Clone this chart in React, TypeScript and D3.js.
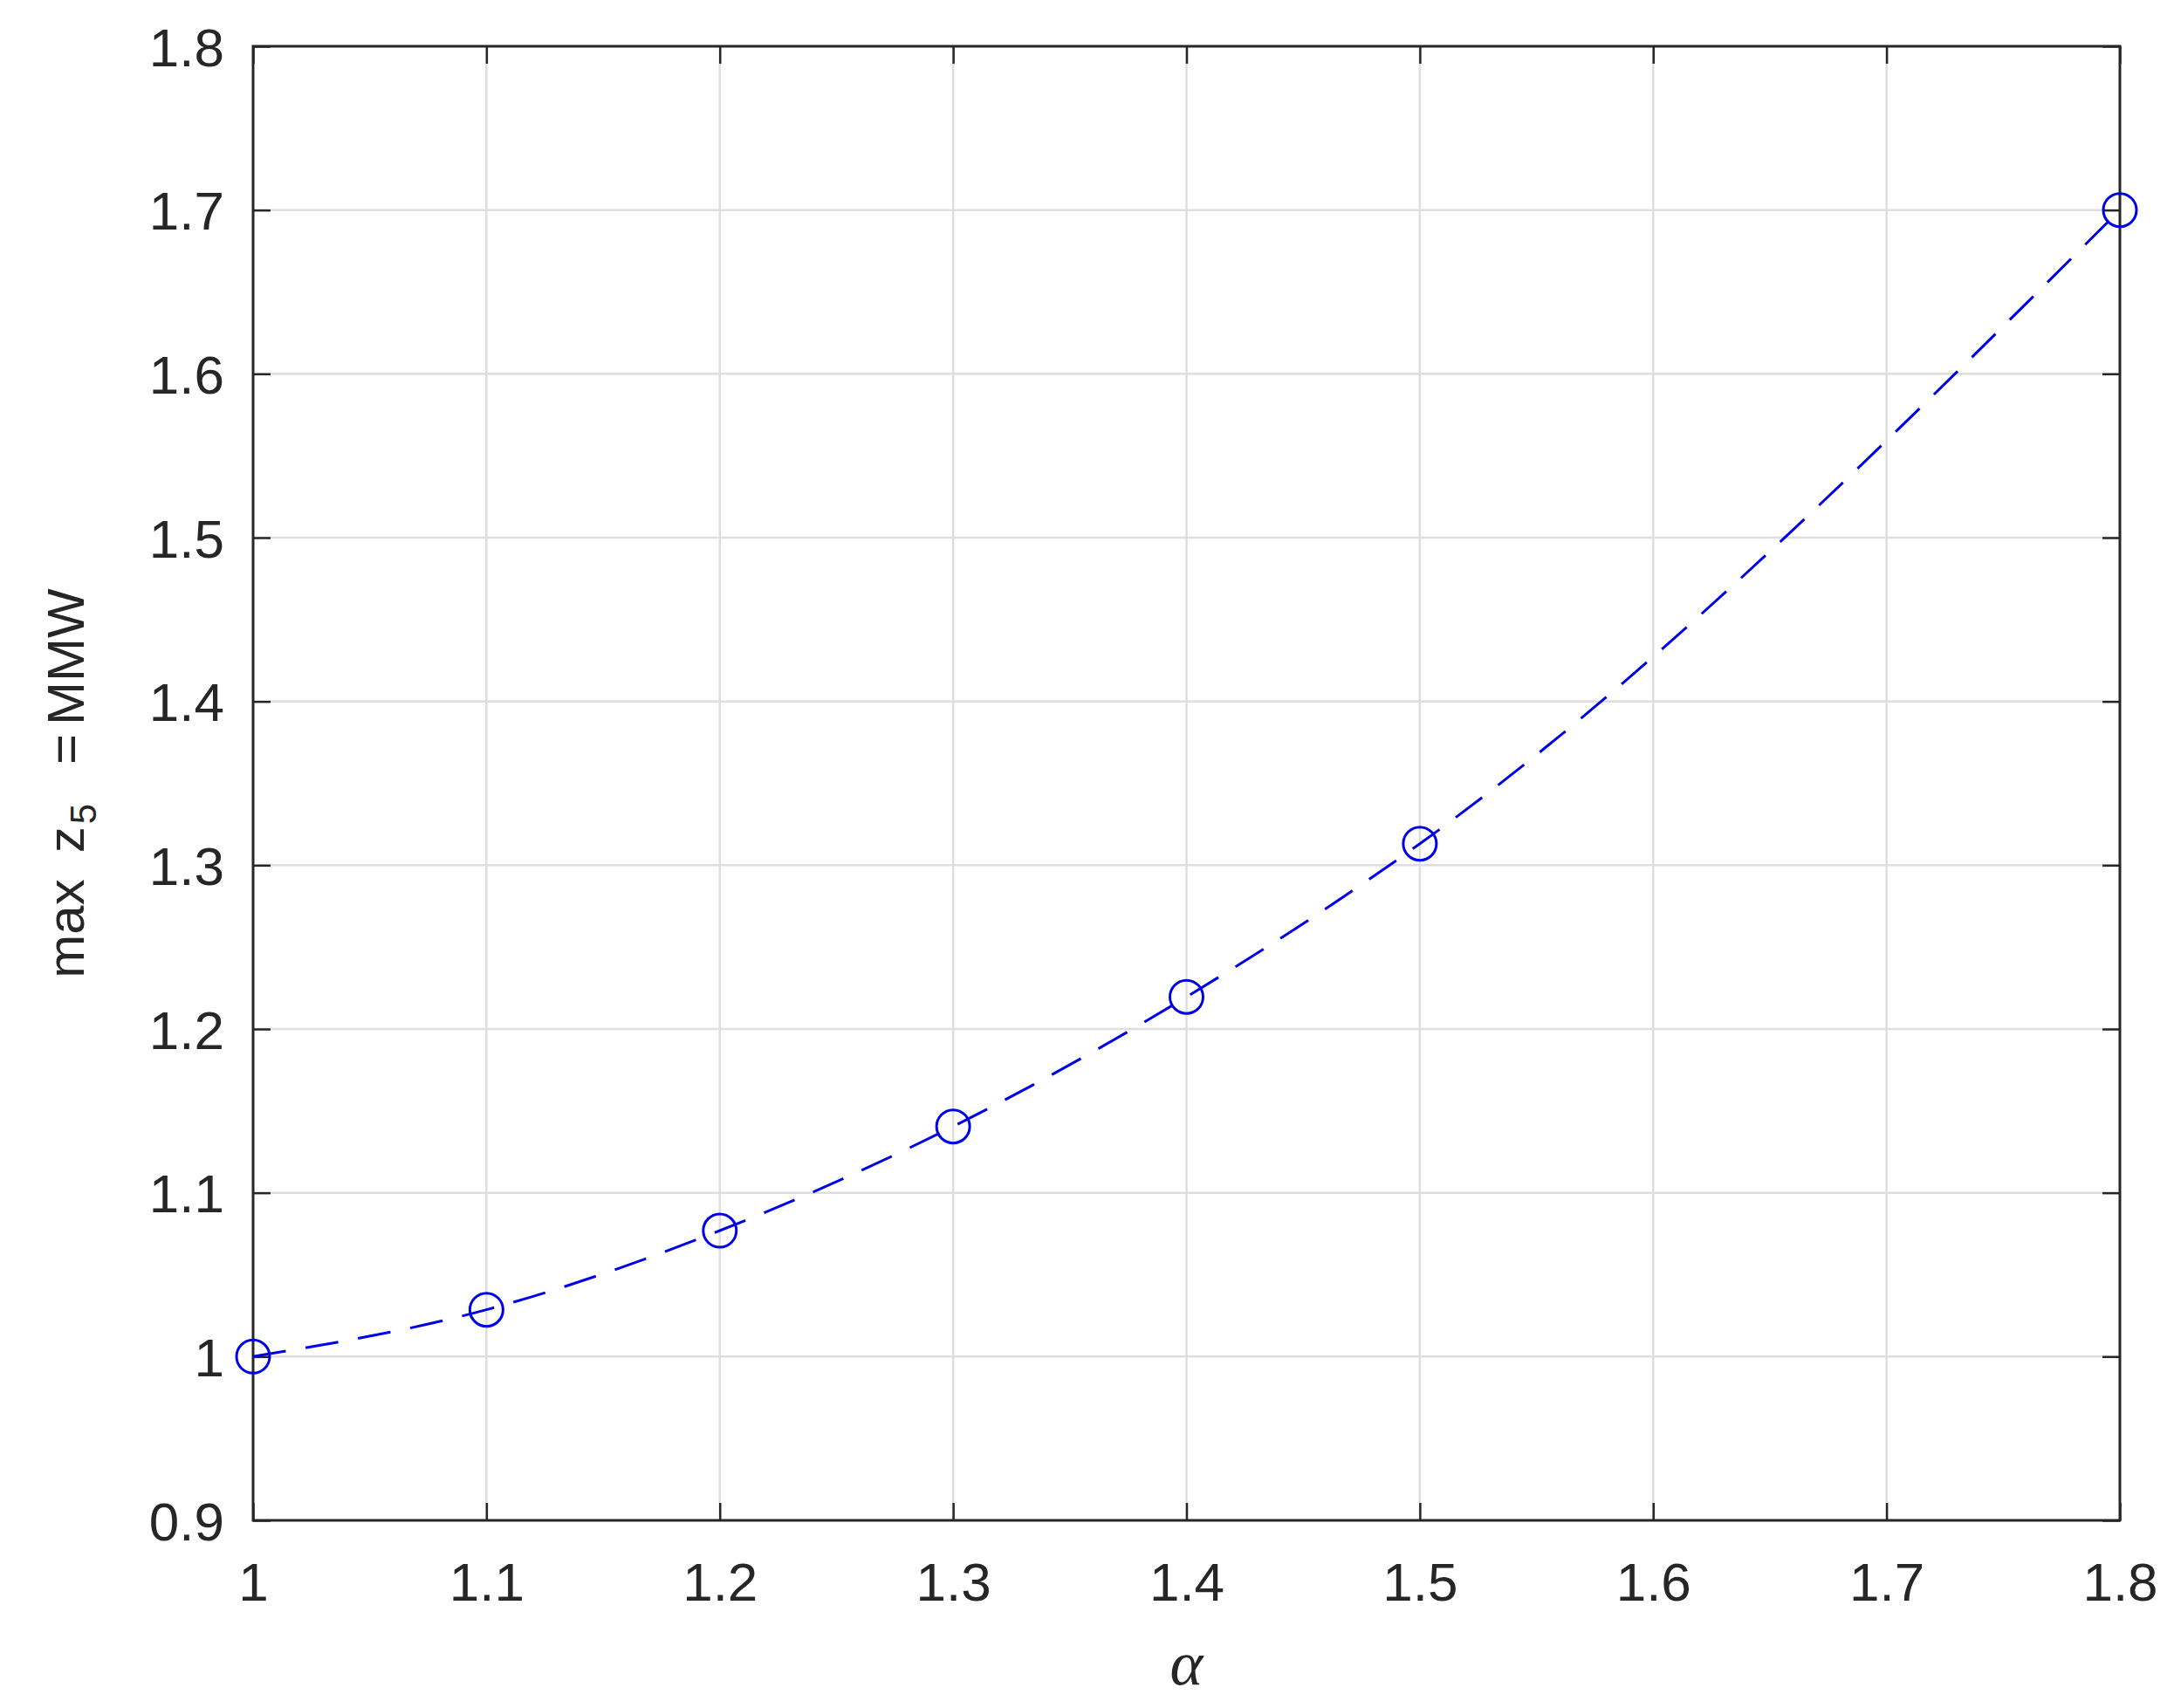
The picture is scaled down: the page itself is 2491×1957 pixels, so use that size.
import React, { useEffect, useRef } from "react";
import * as d3 from "d3";

// values
const alphaValues = [1, 1.1, 1.2, 1.3, 1.4, 1.5, 1.8];
const maxZ5Values = [1.0, 1.0286, 1.0769, 1.1405, 1.2196, 1.3131, 1.7];
const xTicks = [1, 1.1, 1.2, 1.3, 1.4, 1.5, 1.6, 1.7, 1.8];
const yTicks = [0.9, 1, 1.1, 1.2, 1.3, 1.4, 1.5, 1.6, 1.7, 1.8];

const App = () => {
  const svgRef = useRef<SVGSVGElement>(null);

  useEffect(() => {
    const width = 2491,
      height = 1957,
      margin = { top: 53, right: 62, bottom: 215, left: 290 };
    const innerW = width - margin.left - margin.right;
    const innerH = height - margin.top - margin.bottom;

    const axisColor = "#262626";
    const gridColor = "#dedede";
    const blue = "#0000e6";
    const font = "'Liberation Sans', Arial, Helvetica, sans-serif";

    const root = d3.select(svgRef.current);
    root.selectAll("*").remove();
    root.append("rect").attr("width", width).attr("height", height).attr("fill", "white");

    const svg = root.append("g").attr("transform", `translate(${margin.left}, ${margin.top})`);

    const x = d3.scaleLinear().domain([1, 1.8]).range([0, innerW]);
    const y = d3.scaleLinear().domain([0.9, 1.8]).range([innerH, 0]);

    // grid
    svg
      .append("g")
      .selectAll("line")
      .data(xTicks.slice(1, -1))
      .enter()
      .append("line")
      .attr("x1", (d) => x(d))
      .attr("x2", (d) => x(d))
      .attr("y1", 0)
      .attr("y2", innerH)
      .attr("stroke", gridColor)
      .attr("stroke-width", 2.5);
    svg
      .append("g")
      .selectAll("line")
      .data(yTicks.slice(1, -1))
      .enter()
      .append("line")
      .attr("x1", 0)
      .attr("x2", innerW)
      .attr("y1", (d) => y(d))
      .attr("y2", (d) => y(d))
      .attr("stroke", gridColor)
      .attr("stroke-width", 2.5);

    // inward ticks on all four sides
    const tickLen = 20;
    const fmt = (d: number) => d3.format("~g")(d);

    const bottom = svg
      .append("g")
      .attr("transform", `translate(0, ${innerH})`)
      .call(d3.axisBottom(x).tickValues(xTicks).tickSize(-tickLen).tickPadding(48).tickFormat(fmt as any));
    const top = svg
      .append("g")
      .call(d3.axisTop(x).tickValues(xTicks).tickSize(-tickLen).tickFormat(() => ""));
    const left = svg
      .append("g")
      .call(d3.axisLeft(y).tickValues(yTicks).tickSize(-tickLen).tickPadding(33).tickFormat(fmt as any));
    const right = svg
      .append("g")
      .attr("transform", `translate(${innerW}, 0)`)
      .call(d3.axisRight(y).tickValues(yTicks).tickSize(-tickLen).tickFormat(() => ""));

    [bottom, top, left, right].forEach((g) => {
      g.select(".domain").remove();
      g.selectAll("line").attr("stroke", axisColor).attr("stroke-width", 2.5);
      g.selectAll("text")
        .attr("fill", axisColor)
        .attr("font-family", font)
        .attr("font-size", 62);
    });
    bottom.selectAll("text").attr("dy", "0.71em");
    left.selectAll("text").attr("dy", "0.36em");

    // box
    svg
      .append("rect")
      .attr("width", innerW)
      .attr("height", innerH)
      .attr("fill", "none")
      .attr("stroke", axisColor)
      .attr("stroke-width", 3);

    const pts = alphaValues.map((a, i) => [a, maxZ5Values[i]] as [number, number]);

    // dashed smooth curve
    const line = d3
      .line<[number, number]>()
      .x((d) => x(d[0]))
      .y((d) => y(d[1]))
      .curve(d3.curveMonotoneX);

    svg
      .append("path")
      .datum(pts)
      .attr("d", line)
      .attr("fill", "none")
      .attr("stroke", blue)
      .attr("stroke-width", 3)
      .attr("stroke-dasharray", "38 23");

    svg
      .append("g")
      .selectAll("circle")
      .data(pts)
      .enter()
      .append("circle")
      .attr("cx", (d) => x(d[0]))
      .attr("cy", (d) => y(d[1]))
      .attr("r", 19)
      .attr("fill", "none")
      .attr("stroke", blue)
      .attr("stroke-width", 3);

    // x label
    root
      .append("text")
      .attr("x", margin.left + innerW / 2)
      .attr("y", 1930)
      .attr("text-anchor", "middle")
      .attr("font-family", "'Liberation Serif', 'Times New Roman', serif")
      .attr("font-style", "italic")
      .attr("font-size", 72)
      .attr("fill", axisColor)
      .text("α");

    // y label (TeX-style spacing)
    const yl = root
      .append("text")
      .attr("transform", `translate(96, ${margin.top + innerH / 2}) rotate(-90)`)
      .attr("text-anchor", "middle")
      .attr("font-family", font)
      .attr("font-size", 60)
      .attr("fill", axisColor);
    yl.append("tspan").text("max");
    yl.append("tspan").attr("dx", 30).text("z");
    yl.append("tspan").attr("font-size", 42).attr("dx", 3).attr("dy", 14).text("5");
    yl.append("tspan").attr("dx", 45).attr("dy", -14).text("=");
    yl.append("tspan").attr("dx", 10).text("MMW");
  }, []);

  return (
    <svg
      ref={svgRef}
      width={2491}
      height={1957}
      style={{ position: "absolute", left: 0, top: 0 }}
    ></svg>
  );
};

export default App;
